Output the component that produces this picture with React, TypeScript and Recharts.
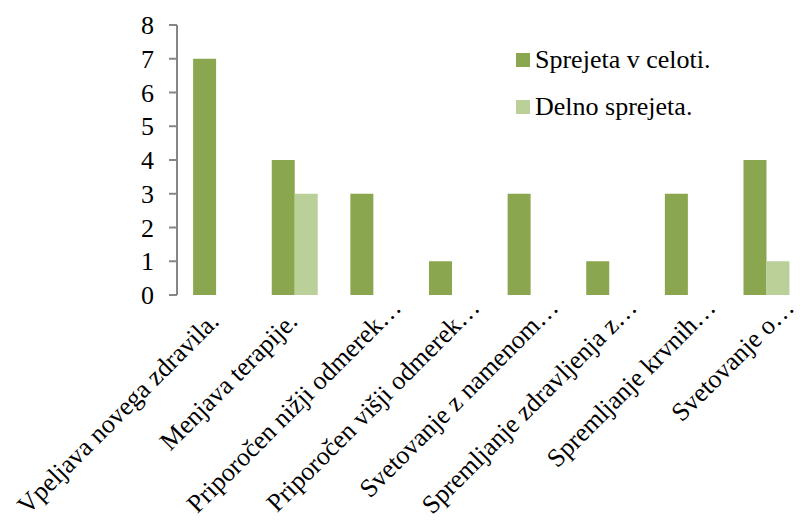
import React from 'react';
import { BarChart, Bar, XAxis, YAxis, Legend } from 'recharts';

const categories = [
  'Vpeljava novega zdravila.',
  'Menjava terapije.',
  'Priporočen nižji odmerek…',
  'Priporočen višji odmerek…',
  'Svetovanje z namenom…',
  'Spremljanje zdravljenja z…',
  'Spremljanje krvnih…',
  'Svetovanje o…',
];
const seriesNames = ['Sprejeta v celoti.', 'Delno sprejeta.'];
const fullyAccepted = [7, 4, 3, 1, 3, 1, 3, 4];
const partlyAccepted = [0, 3, 0, 0, 0, 0, 0, 1];
const yTicks = [0, 1, 2, 3, 4, 5, 6, 7, 8];
const boundaryTicks = [0, 1, 2, 3, 4, 5, 6, 7, 8];

const data = categories.map((name, i) => ({
  name,
  full: fullyAccepted[i],
  partial: partlyAccepted[i] || null,
}));

const FONT = '"Liberation Serif"';
const DARK = '#8AA64F';
const LIGHT = '#BBD098';
const AXIS = '#868686';

// shortened labels (ending in an ellipsis) sit a little further up and right
const CategoryTick = (props: any) => {
  const { x, y, payload } = props;
  const cut = String(payload.value).endsWith('…');
  const dx = cut ? 29 : 4;
  const dy = cut ? 14 : 28;
  return (
    <g transform={`translate(${x + dx},${y + dy})`}>
      <text
        transform="rotate(-45)"
        textAnchor="end"
        style={{ fontFamily: FONT, fontSize: 26 }}
        fill="#000"
      >
        {payload.value}
      </text>
    </g>
  );
};

// keep the series order instead of the legend's alphabetical sort
const LegendBox = (props: any) => {
  const items = [...(props.payload || [])].sort(
    (a: any, b: any) => seriesNames.indexOf(a.value) - seriesNames.indexOf(b.value)
  );
  return (
    <div style={{ fontFamily: FONT, fontSize: 26, color: '#000', lineHeight: '30px' }}>
      {items.map((it: any, i: number) => (
        <div
          key={i}
          style={{ display: 'flex', alignItems: 'center', height: 30, marginBottom: 17 }}
        >
          <span
            style={{ width: 14, height: 14, background: it.color, marginRight: 5, display: 'inline-block' }}
          />
          <span>{it.value}</span>
        </div>
      ))}
    </div>
  );
};

export default function App() {
  return (
    <div style={{ position: 'absolute', left: 0, top: 0, width: 806, height: 520, background: '#fff', fontFamily: FONT }}>
      <BarChart
        width={806}
        height={520}
        data={data}
        margin={{ top: 25, right: 0, bottom: 0, left: 0 }}
        barCategoryGap="20.5%"
        barGap={0}
      >
        <XAxis
          xAxisId="bounds"
          type="number"
          domain={[0, 8]}
          ticks={boundaryTicks}
          tick={false}
          tickSize={7}
          height={0}
          axisLine={{ stroke: AXIS, strokeWidth: 2 }}
          tickLine={{ stroke: AXIS, strokeWidth: 2 }}
          allowDataOverflow
        />
        <XAxis
          xAxisId="cat"
          dataKey="name"
          type="category"
          interval={0}
          height={225}
          axisLine={false}
          tickLine={false}
          tickSize={0}
          tickMargin={0}
          tick={<CategoryTick />}
        />
        <YAxis
          domain={[0, 8]}
          ticks={yTicks}
          width={177}
          tickSize={8}
          tickMargin={15}
          axisLine={{ stroke: AXIS, strokeWidth: 2 }}
          tickLine={{ stroke: AXIS, strokeWidth: 2 }}
          tick={{ style: { fontFamily: FONT, fontSize: 26 }, fill: '#000' }}
          interval={0}
        />
        <Legend
          layout="vertical"
          verticalAlign="middle"
          align="center"
          wrapperStyle={{ left: 516, top: 45, width: 280 }}
          content={<LegendBox />}
        />
        <Bar xAxisId="cat" dataKey="full" name={seriesNames[0]} fill={DARK} isAnimationActive={false} />
        <Bar xAxisId="cat" dataKey="partial" name={seriesNames[1]} fill={LIGHT} isAnimationActive={false} />
      </BarChart>
    </div>
  );
}
